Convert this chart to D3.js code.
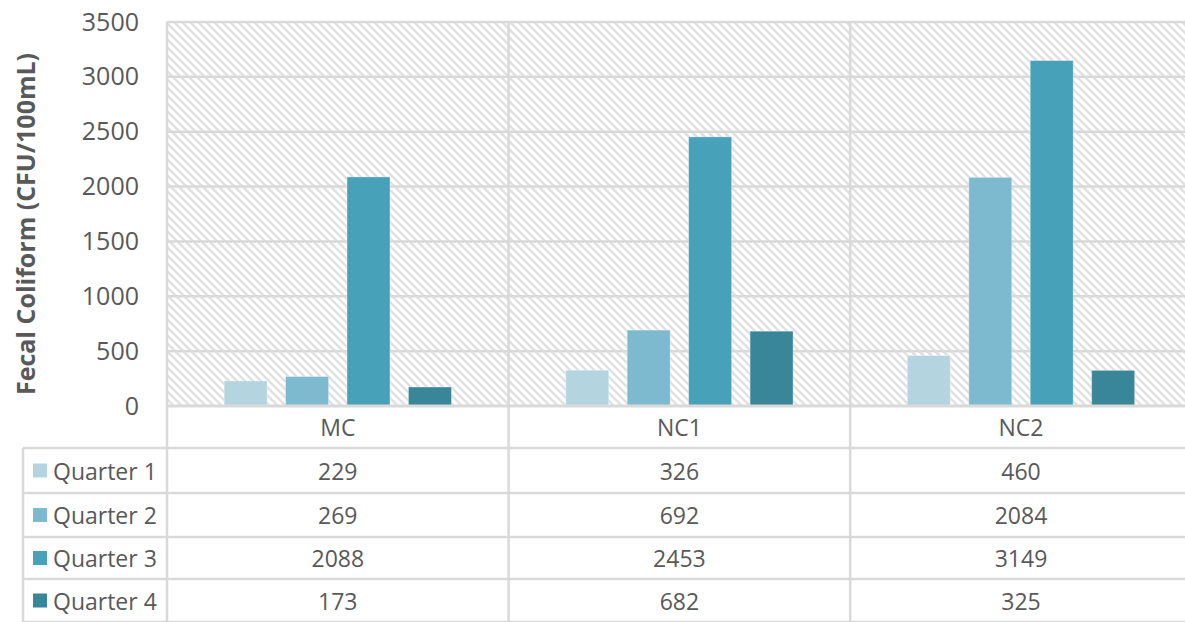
<!DOCTYPE html>
<html>
<head>
<meta charset="utf-8">
<script src="https://cdn.jsdelivr.net/npm/d3@7/dist/d3.min.js"></script>
<style>
  html, body { margin: 0; padding: 0; background: #ffffff; }
  svg { display: block; }
  text { font-family: "Open Sans", "Noto Sans", sans-serif; fill: #595959; }
</style>
</head>
<body>
<svg id="chart" width="1185" height="622"></svg>
<script>
// Fecal coliform counts per site and quarter
const sites = ["MC", "NC1", "NC2"];
const quarters = ["Quarter 1", "Quarter 2", "Quarter 3", "Quarter 4"];
const quarter1 = [229, 326, 460];
const quarter2 = [269, 692, 2084];
const quarter3 = [2088, 2453, 3149];
const quarter4 = [173, 682, 325];
const yTicks = [0, 500, 1000, 1500, 2000, 2500, 3000, 3500];
const colors = ["#b4d5e0", "#7dbacf", "#47a2b9", "#398698"];

const seriesValues = [quarter1, quarter2, quarter3, quarter4];

const svg = d3.select("#chart");
const W = 1185, H = 622;
const plot = { left: 167, right: 167 + 3 * 341.6, top: 22, bottom: 406 };
const gridColor = "#d9d9d9";
const tableFont = "23px";

// hatched plot background
const defs = svg.append("defs");
const pat = defs.append("pattern")
  .attr("id", "hatch")
  .attr("patternUnits", "userSpaceOnUse")
  .attr("width", 8).attr("height", 8);
pat.append("rect").attr("width", 8).attr("height", 8).attr("fill", "#ffffff");
pat.append("path")
  .attr("d", "M-2,-2 L10,10 M-2,6 L2,10 M6,-2 L10,2")
  .attr("stroke", "#e0e0e0").attr("stroke-width", 2.3);

const y = d3.scaleLinear().domain([0, 3500]).range([plot.bottom, plot.top]);
const x = d3.scaleBand().domain(sites).range([plot.left, plot.right]).padding(0);
const xi = d3.scaleBand().domain(quarters).range([0, x.bandwidth()])
  .paddingInner(0.3).paddingOuter(0.93);

svg.append("rect")
  .attr("x", plot.left).attr("y", plot.top)
  .attr("width", plot.right - plot.left).attr("height", plot.bottom - plot.top)
  .attr("fill", "url(#hatch)");

// horizontal gridlines
svg.append("g").selectAll("line").data(yTicks.filter(d => d > 0)).join("line")
  .attr("x1", plot.left).attr("x2", W + 10)
  .attr("y1", d => y(d)).attr("y2", d => y(d))
  .attr("stroke", gridColor).attr("stroke-width", 2.5);

// y axis tick labels
const yAxis = d3.axisLeft(y).tickValues(yTicks).tickSize(0).tickPadding(0).tickFormat(d3.format("d"));
const yg = svg.append("g").attr("transform", `translate(${plot.left - 28},0)`).call(yAxis);
yg.select(".domain").remove();
yg.selectAll("text")
  .style("font-family", "'Open Sans', sans-serif")
  .style("font-size", "25px").style("fill", "#595959");

// y axis title
svg.append("text")
  .attr("transform", `translate(35,${(plot.top + plot.bottom) / 2 + 10}) rotate(-90)`)
  .attr("text-anchor", "middle")
  .style("font-size", "25px").style("font-weight", "bold")
  .text("Fecal Coliform (CFU/100mL)");

// bars
const groups = svg.append("g").selectAll("g").data(sites).join("g")
  .attr("transform", d => `translate(${x(d)},0)`);
groups.selectAll("rect")
  .data((s, i) => quarters.map((q, k) => ({ q, k, v: seriesValues[k][i] })))
  .join("rect")
  .attr("x", d => xi(d.q))
  .attr("width", xi.bandwidth())
  .attr("y", d => y(d.v))
  .attr("height", d => y(0) - y(d.v))
  .attr("fill", d => colors[d.k])
  .attr("stroke", "#ffffff").attr("stroke-opacity", 0.35).attr("stroke-width", 1);

// data table below the plot
const rowLines = [406, 448, 493, 537, 579, 622];
const tableLeft = 23;

// horizontal table lines
svg.append("g").selectAll("line").data(rowLines).join("line")
  .attr("x1", (d, i) => i === 0 ? plot.left : tableLeft)
  .attr("x2", W + 10)
  .attr("y1", d => d).attr("y2", d => d)
  .attr("stroke", gridColor).attr("stroke-width", (d, i) => i === 0 ? 3 : 2.5);

// vertical lines: plot/category dividers and table left edge
const dividers = [plot.left, x("NC1"), x("NC2")];
svg.append("g").selectAll("line").data(dividers).join("line")
  .attr("x1", d => d).attr("x2", d => d)
  .attr("y1", plot.top).attr("y2", H + 5)
  .attr("stroke", gridColor).attr("stroke-width", 2.5);
svg.append("line")
  .attr("x1", tableLeft).attr("x2", tableLeft)
  .attr("y1", rowLines[1]).attr("y2", H + 5)
  .attr("stroke", gridColor).attr("stroke-width", 2.5);

// category labels
svg.append("g").selectAll("text").data(sites).join("text")
  .attr("x", d => x(d) + x.bandwidth() / 2)
  .attr("y", (rowLines[0] + rowLines[1]) / 2 + 9)
  .attr("text-anchor", "middle")
  .style("font-size", tableFont)
  .text(d => d);

// series rows
quarters.forEach((q, k) => {
  const top = rowLines[k + 1], bot = rowLines[k + 2];
  const cy = (top + bot) / 2;
  svg.append("rect")
    .attr("x", 33).attr("y", cy - 7).attr("width", 14).attr("height", 14)
    .attr("fill", colors[k]);
  svg.append("text")
    .attr("x", 53).attr("y", cy + 9)
    .style("font-size", tableFont)
    .text(q);
  svg.append("g").selectAll("text").data(sites).join("text")
    .attr("x", d => x(d) + x.bandwidth() / 2)
    .attr("y", cy + 9)
    .attr("text-anchor", "middle")
    .style("font-size", tableFont)
    .text((d, i) => seriesValues[k][i]);
});
</script>
</body>
</html>
